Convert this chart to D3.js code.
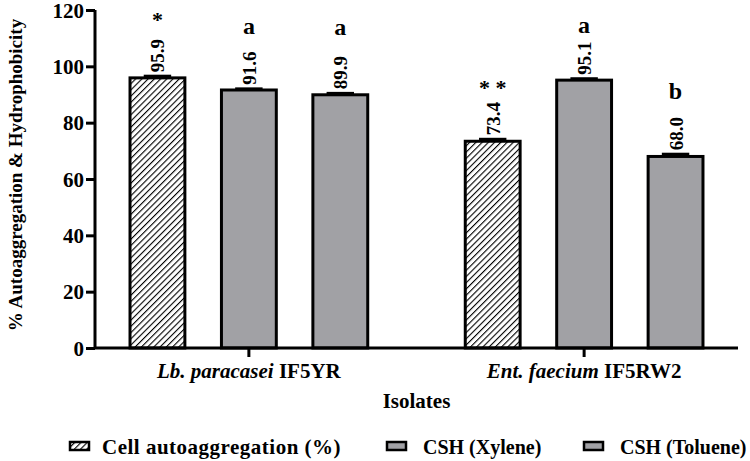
<!DOCTYPE html>
<html>
<head>
<meta charset="utf-8">
<script src="https://cdn.jsdelivr.net/npm/d3@7"></script>
<style>
  body { margin: 0; background: #fff; }
  text { font-family: "Liberation Serif", "Times New Roman", serif; font-weight: bold; fill: #000; }
</style>
</head>
<body>
<div id="plot"></div>
<script>
// Data
var isolates = ["Lb. paracasei IF5YR", "Ent. faecium IF5RW2"];
var isolateItalic = ["Lb. paracasei", "Ent. faecium"];
var isolateStrain = ["IF5YR", "IF5RW2"];
var seriesNames = ["Cell autoaggregation (%)", "CSH (Xylene)", "CSH (Toluene)"];
var lbValues = [95.9, 91.6, 89.9];
var entValues = [73.4, 95.1, 68.0];
var lbErrors = [0.6, 0.4, 0.5];
var entErrors = [0.7, 0.5, 0.8];
var lbMarks = ["*", "a", "a"];
var entMarks = ["**", "a", "b"];
var lbMarkLevel = [114, 111.5, 111];
var entMarkLevel = [90, 112, 88.5];
var yTicks = [0, 20, 40, 60, 80, 100, 120];

var values = [lbValues, entValues];
var errors = [lbErrors, entErrors];
var marks = [lbMarks, entMarks];
var markLevel = [lbMarkLevel, entMarkLevel];

// Set up the dimensions of the plot
var width = 750, height = 461;
var margin = { top: 10, right: 12, bottom: 113, left: 95 };
var plotW = width - margin.left - margin.right,
    plotH = height - margin.top - margin.bottom;

var svg = d3.select("div#plot")
    .append("svg")
    .attr("width", width)
    .attr("height", height);

var defs = svg.append("defs");
var pat = defs.append("pattern")
    .attr("id", "hatch")
    .attr("patternUnits", "userSpaceOnUse")
    .attr("width", 4.4)
    .attr("height", 4.4)
    .attr("patternTransform", "rotate(45)");
pat.append("rect").attr("width", 4.4).attr("height", 4.4).attr("fill", "#fff");
pat.append("line")
    .attr("x1", 0).attr("y1", 0).attr("x2", 0).attr("y2", 4.4)
    .attr("stroke", "#000").attr("stroke-width", 2.2);

var grayFill = "#a1a1a5";
function fillFor(i) { return i === 0 ? "url(#hatch)" : grayFill; }

var g = svg.append("g")
    .attr("transform", "translate(" + margin.left + "," + margin.top + ")");

// Scales
var x0 = d3.scaleBand()
    .domain(isolates)
    .range([0, plotW])
    .paddingInner(0.1)
    .paddingOuter(0.009);

var x1 = d3.scaleBand()
    .domain(seriesNames)
    .range([0, x0.bandwidth()])
    .paddingInner(0.4)
    .paddingOuter(0.35);

var y = d3.scaleLinear()
    .domain([0, 120])
    .range([plotH, 0]);

// Bars, error bars and labels
isolates.forEach(function (iso, gi) {
    var grp = g.append("g").attr("transform", "translate(" + x0(iso) + ",0)");
    seriesNames.forEach(function (s, si) {
        var v = values[gi][si], e = errors[gi][si];
        var bx = x1(s), bw = x1.bandwidth(), cx = bx + bw / 2;

        // error bar (upper only)
        grp.append("line")
            .attr("x1", cx).attr("x2", cx)
            .attr("y1", y(v)).attr("y2", y(v + e))
            .attr("stroke", "#000").attr("stroke-width", 3);
        grp.append("line")
            .attr("x1", cx - bw / 4).attr("x2", cx + bw / 4)
            .attr("y1", y(v + e)).attr("y2", y(v + e))
            .attr("stroke", "#000").attr("stroke-width", 3);

        grp.append("rect")
            .attr("x", bx).attr("y", y(v))
            .attr("width", bw).attr("height", y(0) - y(v))
            .attr("fill", fillFor(si))
            .attr("stroke", "#000").attr("stroke-width", 3);

        // rotated value label
        grp.append("text")
            .attr("transform", "translate(" + (cx + 7) + "," + (y(v + e) - 4) + ") rotate(-90)")
            .style("font-size", "19px")
            .style("text-anchor", "start")
            .text(v.toFixed(1));

        // significance letters
        var isStar = marks[gi][si].indexOf("*") >= 0;
        grp.append("text")
            .attr("x", cx)
            .attr("y", y(markLevel[gi][si]))
            .style("font-size", isStar ? "22px" : "24px")
            .style("text-anchor", "middle")
            .text(marks[gi][si].split("").join(" "));
    });
});

// Axes
var xAxis = d3.axisBottom(x0).tickSize(9).tickFormat("");
var yAxis = d3.axisLeft(y).tickValues(yTicks).tickSize(9).tickPadding(2);

var gx = g.append("g")
    .attr("transform", "translate(0," + plotH + ")")
    .call(xAxis);
var gy = g.append("g").call(yAxis);

[gx, gy].forEach(function (ax) {
    ax.select(".domain").attr("stroke", "#000").attr("stroke-width", 3)
        .attr("d", ax === gx ? "M0,0H" + plotW : "M0," + plotH + "V0");
    ax.selectAll(".tick line").attr("stroke", "#000").attr("stroke-width", 3);
});
gy.selectAll(".tick text")
    .style("font-family", "Liberation Serif")
    .style("font-weight", "bold")
    .style("font-size", "21px")
    .attr("dy", "0.34em");

// Category labels
isolates.forEach(function (iso, gi) {
    var t = g.append("text")
        .attr("x", x0(iso) + x0.bandwidth() / 2)
        .attr("y", plotH + 30)
        .style("font-size", "21px")
        .style("text-anchor", "middle");
    t.append("tspan").style("font-style", "italic").text(isolateItalic[gi]);
    t.append("tspan").text(" " + isolateStrain[gi]);
});

// Axis titles
g.append("text")
    .attr("x", plotW / 2)
    .attr("y", plotH + 60)
    .style("font-size", "21px")
    .style("text-anchor", "middle")
    .text("Isolates");

svg.append("text")
    .attr("transform", "rotate(-90)")
    .attr("x", -175)
    .attr("y", 22)
    .style("font-size", "19px")
    .style("text-anchor", "middle")
    .text("% Autoaggregation & Hydrophobicity");

// Legend
var legendX = [70, 387, 584];
var legend = svg.append("g");
seriesNames.forEach(function (s, si) {
    legend.append("rect")
        .attr("x", legendX[si]).attr("y", 442)
        .attr("width", 19).attr("height", 8)
        .attr("fill", fillFor(si))
        .attr("stroke", "#000").attr("stroke-width", 2.5);
    legend.append("text")
        .attr("x", legendX[si] + (si === 0 ? 32 : 36))
        .attr("y", 454)
        .style("font-size", si === 0 ? "21px" : "20px")
        .style("letter-spacing", si === 0 ? "0.5px" : "0px")
        .text(s);
});
</script>
</body>
</html>
